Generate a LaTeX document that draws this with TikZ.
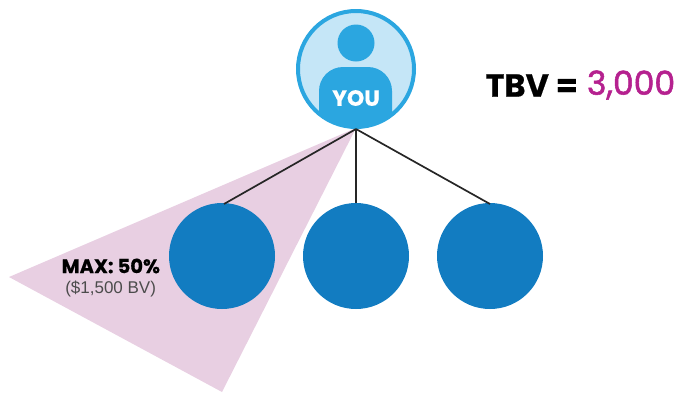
\documentclass[tikz,border=0pt]{standalone}
\usepackage{fontspec}
\setmainfont{Liberation Sans}
\newfontfamily\heavy[BoldFeatures={FakeBold=0.5}]{Poppins}
\newfontfamily\medium[FakeBold=1.6]{Poppins}
\definecolor{ringblue}{HTML}{2BA6E0}
\definecolor{paleblue}{HTML}{C5E6F7}
\definecolor{nodeblue}{HTML}{127CC1}
\definecolor{wedge}{HTML}{E8CFE2}
\definecolor{magentatext}{HTML}{B5218F}
\tikzset{
  member/.style={circle,fill=nodeblue,minimum size=106pt,inner sep=0pt,draw=none},
  link/.style={draw=black!85,line width=1.7pt},
  lbl/.style={inner sep=0pt,outer sep=0pt},
}
\begin{document}
\begin{tikzpicture}[x=1pt,y=-1pt]
\useasboundingbox (0,0) rectangle (679,392);
\fill[wedge] (356,128) -- (9,277) -- (222,392) -- cycle;
\node[circle,fill=paleblue,draw=ringblue,line width=4pt,minimum size=116pt,inner sep=0pt] (you) at (356,69) {};
\begin{scope}
\clip (356,69) circle (58);
\fill[ringblue,rounded corners=24pt] (319,140) -- (319,67) -- (392,67) -- (392,140) -- cycle;
\end{scope}
\fill[ringblue] (356,43) circle (18.5);
\node[lbl,text=white] (youtext) at (356,98) {\heavy\bfseries\fontsize{22}{22}\selectfont YOU};
\node[member] (a) at (222,256) {};
\node[member] (b) at (356,256) {};
\node[member] (c) at (490,256) {};
\coordinate (apex) at (356,129);
\draw[link] (apex) -- (224,204);
\draw[link] (apex) -- (b.north);
\draw[link] (apex) -- (490,204);
\node[lbl,anchor=east] (tbv) at (578,85.5) {\heavy\bfseries\fontsize{32}{32}\selectfont TBV =};
\node[lbl,anchor=west,text=magentatext] (val) at (587,85) {\medium\fontsize{33}{33}\selectfont 3,000};
\node[lbl,anchor=east] (max) at (160,266) {\heavy\bfseries\fontsize{19.5}{19.5}\selectfont MAX: 50\%};
\node[lbl,anchor=east,text=black!70] (bv) at (156,289) {\fontsize{17}{17}\selectfont (\$1,500 BV)};
\end{tikzpicture}
\end{document}
